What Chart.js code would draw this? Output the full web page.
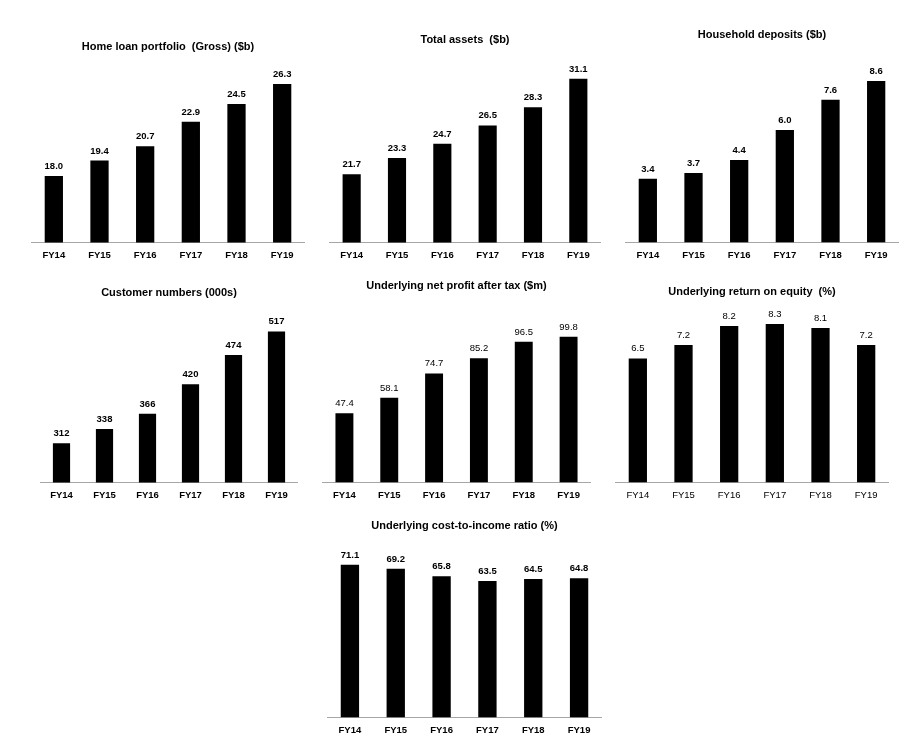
<!DOCTYPE html>
<html>
<head>
<meta charset="utf-8">
<script src="https://cdn.jsdelivr.net/npm/chart.js@4.4.0/dist/chart.umd.min.js"></script>
<style>
  body { margin: 0; background: #fff; }
  #wrap { position: relative; width: 909px; height: 755px; overflow: hidden; }
  canvas { position: absolute; }
</style>
</head>
<body>
<div id="wrap"></div>
<script>
// data
var years = ['FY14', 'FY15', 'FY16', 'FY17', 'FY18', 'FY19'];
var homeLoans = [18.0, 19.4, 20.7, 22.9, 24.5, 26.3];
var totalAssets = [21.7, 23.3, 24.7, 26.5, 28.3, 31.1];
var householdDeposits = [3.4, 3.7, 4.4, 6.0, 7.6, 8.6];
var customerNumbers = [312, 338, 366, 420, 474, 517];
var netProfit = [47.4, 58.1, 74.7, 85.2, 96.5, 99.8];
var returnOnEquity = [6.5, 7.2, 8.2, 8.3, 8.1, 7.2];
var costToIncome = [71.1, 69.2, 65.8, 63.5, 64.5, 64.8];

var titles = [
  'Home loan portfolio  (Gross) ($b)',
  'Total assets  ($b)',
  'Household deposits ($b)',
  'Customer numbers (000s)',
  'Underlying net profit after tax ($m)',
  'Underlying return on equity  (%)',
  'Underlying cost-to-income ratio (%)'
];

var FONT = "'Liberation Sans', Arial, sans-serif";

// where each panel sits and how its value axis runs
var panels = [
  {data: homeLoans,         left: 31,  right: 305, titleY: 47,  top: 60,  axis: 242.5, min: 12,  max: 28.47, dec: 1, boldVal: true,  boldTick: true},
  {data: totalAssets,       left: 329, right: 601, titleY: 40,  top: 60,  axis: 242.5, min: 15,  max: 32.93, dec: 1, boldVal: true,  boldTick: true},
  {data: householdDeposits, left: 625, right: 899, titleY: 35,  top: 60,  axis: 242,   min: 0,   max: 9.72,  dec: 1, boldVal: true,  boldTick: true},
  {data: customerNumbers,   left: 40,  right: 298, titleY: 293, top: 300, axis: 482,   min: 240, max: 574.6, dec: 0, boldVal: true,  boldTick: true},
  {data: netProfit,         left: 322, right: 591, titleY: 286, top: 300, axis: 482,   min: 0,   max: 125,   dec: 1, boldVal: false, boldTick: true},
  {data: returnOnEquity,    left: 615, right: 889, titleY: 292, top: 300, axis: 482,   min: 0,   max: 9.56,  dec: 1, boldVal: false, boldTick: false},
  {data: costToIncome,      left: 327, right: 602, titleY: 526, top: 545, axis: 717,   min: 0,   max: 80.3,  dec: 1, boldVal: true,  boldTick: true}
];

var valueLabels = {
  id: 'valueLabels',
  afterDatasetsDraw: function(chart, args, opts) {
    var ctx = chart.ctx;
    var meta = chart.getDatasetMeta(0);
    var vals = chart.data.datasets[0].data;
    ctx.save();
    ctx.font = (opts.bold ? 'bold ' : '') + '9.5px ' + FONT;
    ctx.fillStyle = '#000';
    ctx.textAlign = 'center';
    ctx.textBaseline = 'alphabetic';
    for (var i = 0; i < meta.data.length; i++) {
      var bar = meta.data[i];
      ctx.fillText(vals[i].toFixed(opts.dec), bar.x, bar.y - 7);
    }
    ctx.restore();
  }
};

var wrap = document.getElementById('wrap');
var TITLE_SIZE = 11;
var XAXIS_H = 25.5;

panels.forEach(function(p, n) {
  var canvasTop = Math.round(p.titleY - TITLE_SIZE * 0.6);
  var w = Math.round(p.right - p.left);
  var h = Math.round(p.axis + XAXIS_H - canvasTop);
  var c = document.createElement('canvas');
  c.width = w;
  c.height = h;
  c.style.left = Math.round(p.left) + 'px';
  c.style.top = canvasTop + 'px';
  wrap.appendChild(c);

  new Chart(c, {
    type: 'bar',
    data: {
      labels: years,
      datasets: [{
        data: p.data,
        backgroundColor: '#000',
        barPercentage: 0.4,
        categoryPercentage: 1
      }]
    },
    plugins: [valueLabels],
    options: {
      responsive: false,
      animation: false,
      layout: { padding: 0 },
      plugins: {
        legend: { display: false },
        tooltip: { enabled: false },
        title: {
          display: true,
          text: titles[n],
          color: '#000',
          font: { family: FONT, size: TITLE_SIZE, weight: 'bold' },
          padding: { top: 0, bottom: Math.max(0, p.top - (canvasTop + TITLE_SIZE * 1.2)) }
        },
        valueLabels: { bold: p.boldVal, dec: p.dec }
      },
      scales: {
        x: {
          grid: { display: false, drawTicks: false },
          border: { color: '#a6a6a6', width: 1 },
          ticks: {
            color: '#000',
            padding: 7,
            font: { family: FONT, size: 9.5, weight: p.boldTick ? 'bold' : 'normal' }
          }
        },
        y: { display: false, min: p.min, max: p.max }
      }
    }
  });
});
</script>
</body>
</html>
